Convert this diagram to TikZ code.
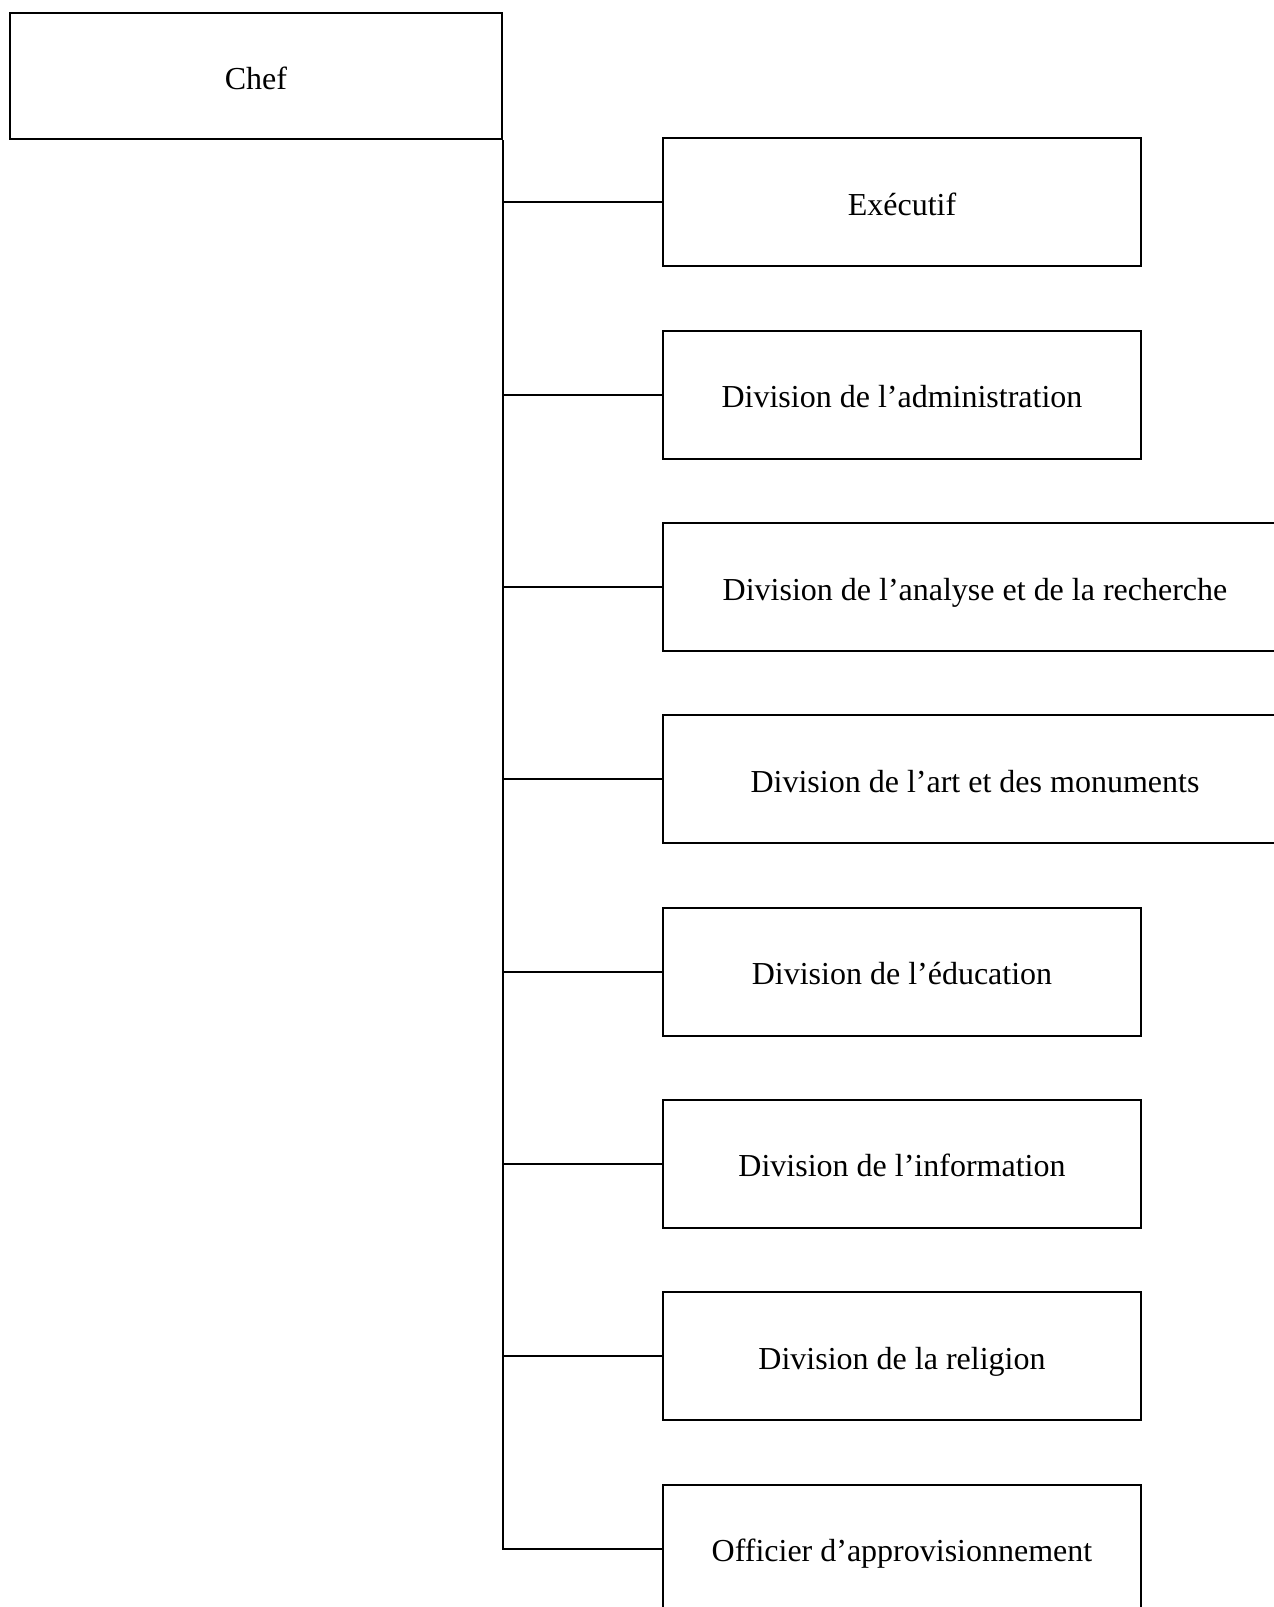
\documentclass[tikz,border=0pt]{standalone}
\usepackage{fontspec}
\setmainfont{Liberation Serif}
\usetikzlibrary{positioning}
\tikzset{
  orgbox/.style={draw, line width=2pt, minimum height=128pt, minimum width=#1,
    inner sep=0pt, text height=28pt, text depth=2pt,
    font=\fontsize{32}{38}\selectfont},
  orgbox/.default={478pt},
  orgline/.style={line width=2pt},
}

\begin{document}
\begin{tikzpicture}[x=1pt, y=1pt]
  \useasboundingbox (0,0) rectangle (1274,-1607);
  \clip (0,0) rectangle (1274,-1607);
  \node[orgbox=492pt, minimum height=126pt] (chef) at (256,-76) {Chef};
  \node[orgbox, anchor=north west] (exec) at (662,-137.4) {Exécutif};
  \node[orgbox, below=62.3pt of exec.south west, anchor=north west]
    (admin) {Division de l’administration};
  \node[orgbox=624pt, below=62.3pt of admin.south west, anchor=north west]
    (analyse) {Division de l’analyse et de la recherche};
  \node[orgbox=624pt, below=62.3pt of analyse.south west, anchor=north west]
    (art) {Division de l’art et des monuments};
  \node[orgbox, below=62.3pt of art.south west, anchor=north west]
    (educ) {Division de l’éducation};
  \node[orgbox, below=62.3pt of educ.south west, anchor=north west]
    (info) {Division de l’information};
  \node[orgbox, below=62.3pt of info.south west, anchor=north west]
    (relig) {Division de la religion};
  \node[orgbox, below=62.3pt of relig.south west, anchor=north west]
    (appro) {Officier d’approvisionnement};
  \draw[orgline] (chef.south east) |- (exec.west);
  \draw[orgline] (chef.south east) |- (admin.west);
  \draw[orgline] (chef.south east) |- (analyse.west);
  \draw[orgline] (chef.south east) |- (art.west);
  \draw[orgline] (chef.south east) |- (educ.west);
  \draw[orgline] (chef.south east) |- (info.west);
  \draw[orgline] (chef.south east) |- (relig.west);
  \draw[orgline] (chef.south east) |- (appro.west);
\end{tikzpicture}
\end{document}
